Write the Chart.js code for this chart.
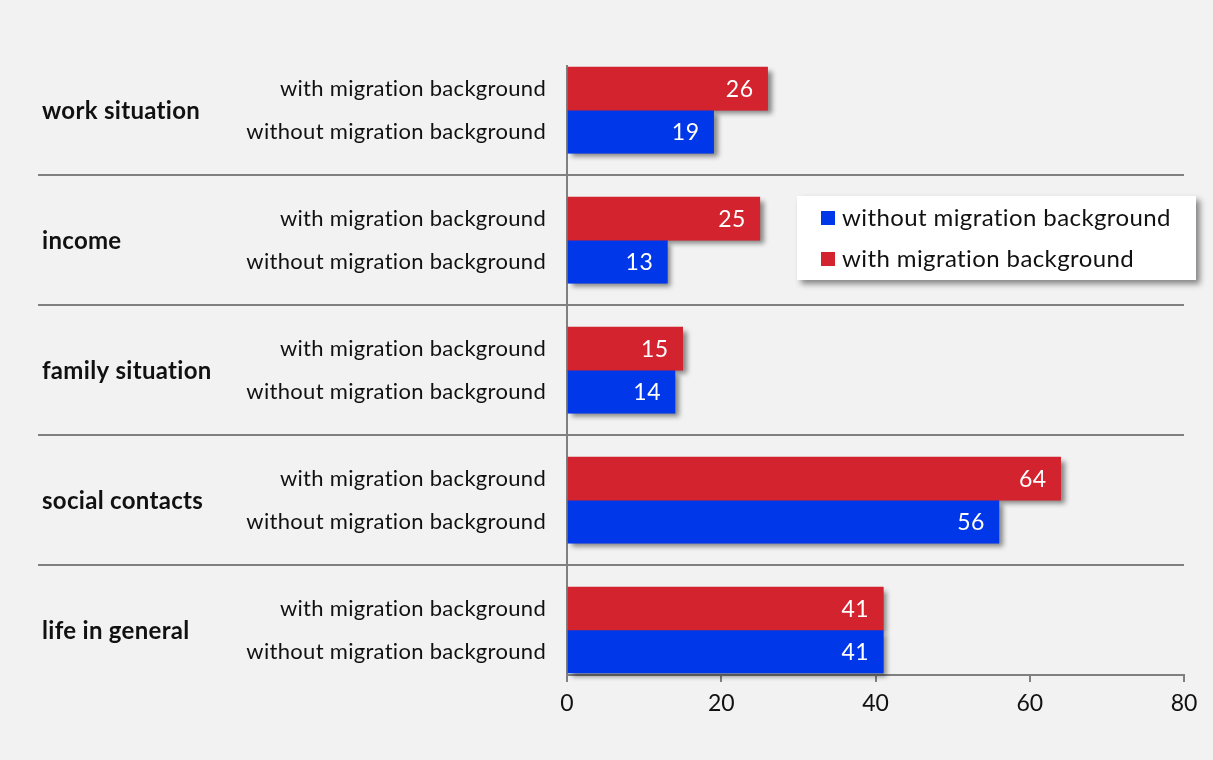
<!DOCTYPE html>
<html>
<head>
<meta charset="utf-8">
<script src="https://cdn.jsdelivr.net/npm/chart.js@4.4.0/dist/chart.umd.min.js"></script>
<style>
    html, body { margin: 0; padding: 0; background: #f2f2f2; }
    #wrap { width: 1213px; height: 760px; }
</style>
</head>
<body>
<div id="wrap"><canvas id="chart" width="1213" height="760"></canvas></div>
<script>
// --- DATOS ---
const categories = ['work situation', 'income', 'family situation', 'social contacts', 'life in general'];
const withLabel = 'with migration background';
const withoutLabel = 'without migration background';
const withValues = [26, 25, 15, 64, 41];
const withoutValues = [19, 13, 14, 56, 41];
const xTicks = [0, 20, 40, 60, 80];

const RED = '#d3232f';
const BLUE = '#0037e9';
const GREY = '#808080';
const TEXT = '#111111';
const FONT = 'Lato, "Open Sans", sans-serif';

// sombra de las barras: se pinta antes que las barras
const barShadow = {
    id: 'barShadow',
    beforeDatasetsDraw(chart) {
        const ctx = chart.ctx;
        ctx.save();
        ctx.shadowColor = 'rgba(0,0,0,0.45)';
        ctx.shadowBlur = 5;
        ctx.shadowOffsetX = 4;
        ctx.shadowOffsetY = 4;
        chart.data.datasets.forEach((ds, di) => {
            chart.getDatasetMeta(di).data.forEach(bar => {
                const { x, y, base, height } = bar.getProps(['x', 'y', 'base', 'height'], true);
                ctx.fillStyle = ds.backgroundColor;
                ctx.fillRect(Math.min(x, base), y - height / 2, Math.abs(x - base), height);
            });
        });
        ctx.restore();
    }
};

// etiquetas, separadores y leyenda
const decorations = {
    id: 'decorations',
    afterDatasetsDraw(chart) {
        const ctx = chart.ctx;
        const yScale = chart.scales.y;
        ctx.save();

        // valores dentro de las barras
        ctx.font = '23px ' + FONT;
        ctx.letterSpacing = '0.5px';
        ctx.fillStyle = '#ffffff';
        ctx.textAlign = 'right';
        ctx.textBaseline = 'middle';
        chart.data.datasets.forEach((ds, di) => {
            chart.getDatasetMeta(di).data.forEach((bar, i) => {
                ctx.fillText(String(ds.data[i].x), bar.x - 14, bar.y + 1);
            });
        });

        // separadores entre grupos
        ctx.strokeStyle = GREY;
        ctx.lineWidth = 2;
        for (let i = 0; i < categories.length - 1; i++) {
            const py = Math.round(yScale.getPixelForValue(i + 0.5));
            ctx.beginPath();
            ctx.moveTo(38, py);
            ctx.lineTo(1184, py);
            ctx.stroke();
        }

        // etiquetas de categoría (negrita)
        ctx.fillStyle = TEXT;
        ctx.textAlign = 'left';
        ctx.font = 'bold 24px ' + FONT;
        ctx.letterSpacing = '0.3px';
        categories.forEach((c, i) => {
            ctx.fillText(c, 42, yScale.getPixelForValue(i) + 1);
        });

        // etiquetas de serie junto a cada barra
        ctx.font = '22px ' + FONT;
        ctx.letterSpacing = '0.3px';
        ctx.textAlign = 'right';
        chart.data.datasets.forEach((ds, di) => {
            chart.getDatasetMeta(di).data.forEach(bar => {
                ctx.fillText(ds.label, 546, bar.y);
            });
        });
        ctx.restore();
    },
    afterDraw(chart) {
        const ctx = chart.ctx;
        const bx = 797, by = 196, bw = 399, bh = 84;
        ctx.save();
        ctx.shadowColor = 'rgba(0,0,0,0.45)';
        ctx.shadowBlur = 6;
        ctx.shadowOffsetX = 4;
        ctx.shadowOffsetY = 4;
        ctx.fillStyle = '#ffffff';
        ctx.fillRect(bx, by, bw, bh);
        ctx.restore();

        ctx.save();
        ctx.font = '24px ' + FONT;
        ctx.letterSpacing = '0.4px';
        ctx.textAlign = 'left';
        ctx.textBaseline = 'middle';
        // orden inverso al de los datasets
        const items = chart.data.datasets.slice().reverse();
        items.forEach((ds, k) => {
            const cy = by + 22 + k * 41;
            ctx.fillStyle = ds.backgroundColor;
            ctx.fillRect(bx + 24, cy - 7, 14, 14);
            ctx.fillStyle = TEXT;
            ctx.fillText(ds.label, bx + 45, cy);
        });
        ctx.restore();
    }
};

new Chart(document.getElementById('chart').getContext('2d'), {
    type: 'bar',
    data: {
        datasets: [
            {
                label: withLabel,
                data: withValues.map((v, i) => ({ x: v, y: i })),
                backgroundColor: RED
            },
            {
                label: withoutLabel,
                data: withoutValues.map((v, i) => ({ x: v, y: i })),
                backgroundColor: BLUE
            }
        ]
    },
    options: {
        indexAxis: 'y',
        responsive: false,
        animation: false,
        devicePixelRatio: 1,
        barThickness: 43,
        layout: { padding: { top: 66, right: 29, left: 0, bottom: 0 } },
        plugins: { legend: { display: false }, tooltip: { enabled: false } },
        scales: {
            x: {
                type: 'linear',
                min: 0,
                max: 80,
                afterBuildTicks: s => { s.ticks = xTicks.map(v => ({ value: v })); },
                afterFit: s => { s.height = 85; },
                ticks: { font: { family: FONT, size: 23 }, color: TEXT, padding: 8 },
                grid: { drawOnChartArea: false, drawTicks: true, tickLength: 7, color: GREY, lineWidth: 2 },
                border: { color: GREY, width: 2 }
            },
            y: {
                type: 'linear',
                reverse: true,
                offset: false,
                min: -0.34,
                max: 4.346,
                afterFit: s => { s.width = 567; },
                ticks: { display: false },
                grid: { drawOnChartArea: false, drawTicks: false, offset: false },
                border: { color: GREY, width: 2 }
            }
        }
    },
    plugins: [barShadow, decorations]
});
</script>
</body>
</html>
